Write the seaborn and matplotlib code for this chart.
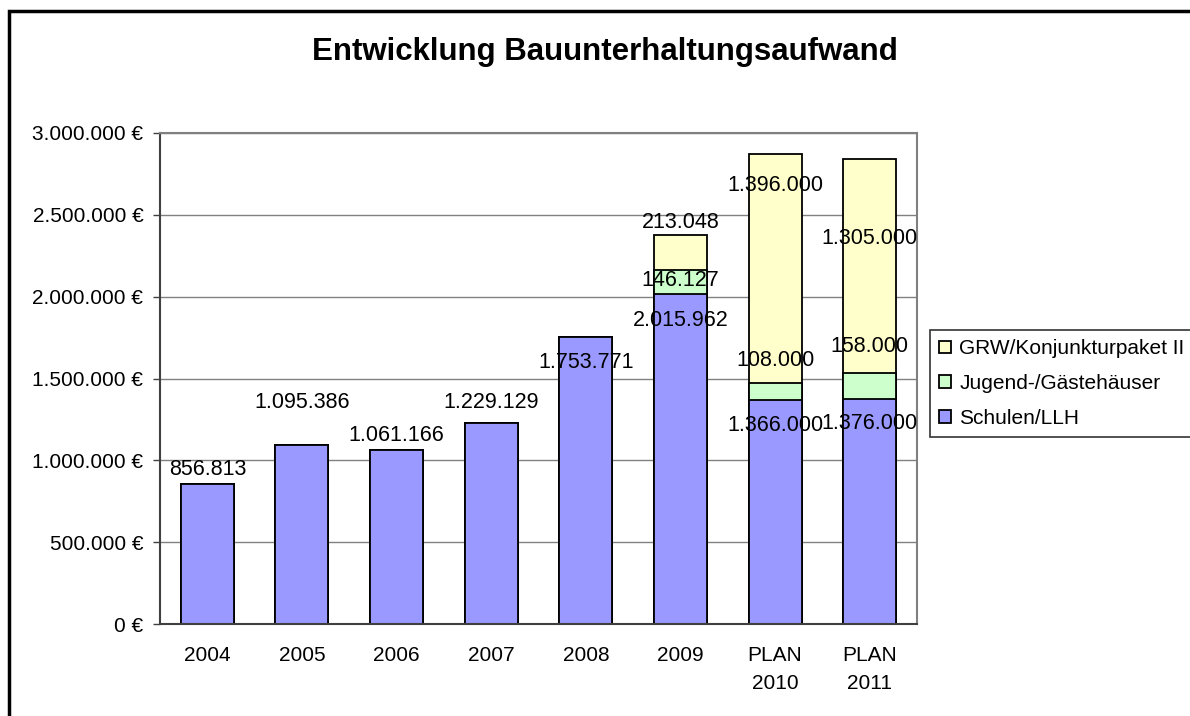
import matplotlib
matplotlib.use('Agg')
import matplotlib.pyplot as plt
import matplotlib.patches as mpatches
import matplotlib.ticker as mticker
import seaborn as sns
import numpy as np
import pandas as pd

# data
years = ['2004', '2005', '2006', '2007', '2008', '2009', 'PLAN\n2010', 'PLAN\n2011']
schulen = [856813, 1095386, 1061166, 1229129, 1753771, 2015962, 1366000, 1376000]
jugend = [0, 0, 0, 0, 0, 146127, 108000, 158000]
grw = [0, 0, 0, 0, 0, 213048, 1396000, 1305000]

series_names = ['Schulen/LLH', 'Jugend-/Gästehäuser', 'GRW/Konjunkturpaket II']

# label offsets (pixels below the segment top), Excel labels were moved by hand
off_schulen = [-14, -42, -15, -20, 26, 26, 25, 25]
off_jugend = [0, 0, 0, 0, 0, 10, -22, -26]
off_grw = [0, 0, 0, 0, 0, -13, 31, 79]

blue = '#9999FF'
green = '#CCFFCC'
yellow = '#FFFFCC'

df = pd.DataFrame({'Jahr': years, 'Schulen': schulen, 'Jugend': jugend, 'GRW': grw})
df['lvl1'] = df['Schulen']
df['lvl2'] = df['Schulen'] + df['Jugend']
df['lvl3'] = df['lvl2'] + df['GRW']

sns.set_style("white")
plt.rcParams['font.family'] = ['Liberation Sans', 'DejaVu Sans']
plt.rcParams['text.color'] = 'black'
plt.rcParams['xtick.color'] = 'black'
plt.rcParams['ytick.color'] = 'black'

fig = plt.figure(figsize=(11.9, 7.16), dpi=100)
ax = fig.add_axes([160 / 1190, 1 - 624 / 716, 757 / 1190, 491 / 716])

# stacked bars: draw totals first, then overdraw lower parts
for col, c in [('lvl3', yellow), ('lvl2', green), ('lvl1', blue)]:
    sns.barplot(data=df, x='Jahr', y=col, color=c, saturation=1, width=0.56,
                edgecolor='black', linewidth=1.3, ax=ax, errorbar=None)

ax.set_ylim(0, 3000000)
ax.set_xlim(-0.5, len(years) - 0.5)
ax.set_xlabel('')
ax.set_ylabel('')

ax.yaxis.set_major_locator(mticker.MultipleLocator(500000))
ax.yaxis.set_major_formatter(mticker.FuncFormatter(
    lambda v, p: f"{int(v):,}".replace(',', '.') + ' €'))
ax.grid(axis='y', color='#808080', linewidth=1)
ax.set_axisbelow(True)

ax.set_xticks(np.arange(-0.5, len(years), 1), minor=True)
ax.tick_params(axis='x', which='major', length=0, pad=16, labelsize=15)
ax.tick_params(axis='x', which='minor', length=5, width=1, color='#404040', direction='out')
ax.tick_params(axis='y', which='major', length=5, width=1, color='#404040',
               direction='out', pad=7, labelsize=15, left=True)
for lab in ax.get_xticklabels():
    lab.set_linespacing(1.6)

for s in ['left', 'bottom']:
    ax.spines[s].set_color('#404040')
    ax.spines[s].set_linewidth(1.5)
for s in ['top', 'right']:
    ax.spines[s].set_visible(True)
    ax.spines[s].set_color('#808080')
    ax.spines[s].set_linewidth(1.5)

def fmt(v):
    return f"{v:,}".replace(',', '.')

for i in range(len(years)):
    ax.annotate(fmt(schulen[i]), (i, df['lvl1'][i]), xytext=(0, -off_schulen[i]),
                textcoords='offset pixels', ha='center', va='center', fontsize=15.5)
    if jugend[i] > 0:
        ax.annotate(fmt(jugend[i]), (i, df['lvl2'][i]), xytext=(0, -off_jugend[i]),
                    textcoords='offset pixels', ha='center', va='center', fontsize=15.5)
    if grw[i] > 0:
        ax.annotate(fmt(grw[i]), (i, df['lvl3'][i]), xytext=(0, -off_grw[i]),
                    textcoords='offset pixels', ha='center', va='center', fontsize=15.5)

fig.text(605 / 1190, 1 - 52 / 716, 'Entwicklung Bauunterhaltungsaufwand',
         ha='center', va='center', fontsize=22.5, fontweight='bold')

handles = [mpatches.Patch(facecolor=c, edgecolor='black', linewidth=1.3, label=n)
           for c, n in [(yellow, series_names[2]), (green, series_names[1]), (blue, series_names[0])]]
leg = fig.legend(handles=handles, loc='upper left', bbox_to_anchor=(930 / 1190, 1 - 330 / 716),
                 fontsize=15, frameon=True, fancybox=False, edgecolor='black',
                 handlelength=0.55, handleheight=0.55, handletextpad=0.4,
                 labelspacing=0.75, borderpad=0.45, borderaxespad=0)
leg.get_frame().set_linewidth(1.2)

# outer chart border
fig.patches.append(mpatches.Rectangle((9 / 1190, -0.1), 1.2, 1.1 - 11 / 716,
                                      transform=fig.transFigure, fill=False,
                                      edgecolor='black', linewidth=2.5))

fig.savefig('out.png', dpi=100)
